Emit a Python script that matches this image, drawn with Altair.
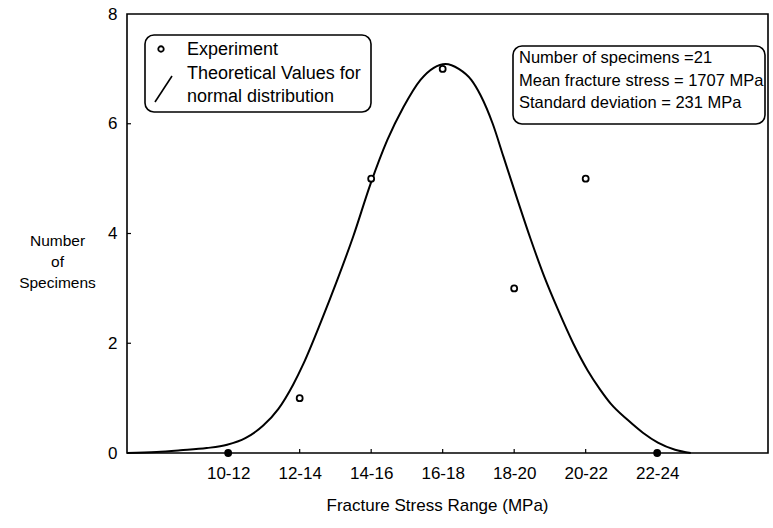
import json
import altair as alt
import pandas as pd

# ---- data ----
range_labels = ["10-12", "12-14", "14-16", "16-18", "18-20", "20-22", "22-24"]
range_mid = [11, 13, 15, 17, 19, 21, 23]          # mid stress, 100 MPa units
experiment_count = [0, 1, 5, 7, 3, 5, 0]

# theoretical curve
curve_x = [8.17, 9.0, 9.66, 10.4, 10.97, 11.48, 11.98, 12.40, 12.82, 13.10,
           13.60, 14.05, 14.50, 14.98, 15.45, 15.90, 16.38, 16.75, 17.08, 17.45,
           17.80, 18.06, 18.40, 18.70, 19.10, 19.46, 19.85, 20.22, 20.65, 21.06,
           21.40, 21.70, 22.18, 22.60, 23.02, 23.50, 23.94]
curve_y = [0.00, 0.02, 0.05, 0.09, 0.15, 0.27, 0.50, 0.80, 1.25, 1.62,
           2.40, 3.15, 3.95, 4.90, 5.70, 6.30, 6.80, 7.02, 7.09, 7.00,
           6.80, 6.52, 6.00, 5.40, 4.60, 3.90, 3.20, 2.62, 2.00, 1.50,
           1.16, 0.90, 0.60, 0.37, 0.19, 0.06, 0.00]

legend_lines_exp = ["Experiment"]
legend_lines_theo = ["Theoretical Values for", "normal distribution"]
stats_lines = ["Number of specimens =21",
               "Mean fracture stress = 1707 MPa",
               "Standard deviation = 231 MPa"]
y_ticks = [0, 2, 4, 6, 8]
inner_x_ticks = [13, 15, 17, 19, 21]
inner_y_ticks = [2, 4, 6]

FONT = "Liberation Sans"
W, H = 641, 439
XDOM = [8.17, 26.1]

pts = pd.DataFrame({"x": range_mid, "count": experiment_count})
curve = pd.DataFrame({"x": curve_x, "y": curve_y})

xscale = alt.Scale(domain=XDOM, nice=False, zero=False)
yscale = alt.Scale(domain=[0, 8], nice=False)

label_expr = json.dumps(range_labels) + "[round((datum.value - 11) / 2)]"

xaxis = alt.Axis(values=range_mid, labelExpr=label_expr, ticks=False, tickSize=0,
                 domain=False, grid=False, labelPadding=12, labelFontSize=17,
                 labelFont=FONT, labelColor="black",
                 title="Fracture Stress Range (MPa)", titleFont=FONT,
                 titleFontSize=17, titleFontWeight="normal", titleColor="black",
                 titleX=310, titleY=44, titleAnchor="middle", labelFlush=False)
yaxis = alt.Axis(values=y_ticks, ticks=False, tickSize=0, domain=False, grid=False,
                 labelPadding=10, labelFontSize=17, labelFont=FONT, labelColor="black",
                 title=["Number", "of", "Specimens"], titleAngle=0, titleFont=FONT,
                 titleFontSize=15.5, titleFontWeight="normal", titleColor="black",
                 titleX=-70, titleY=219, titleAlign="center", titleBaseline="top",
                 titleLineHeight=21, labelFlush=False)

line = alt.Chart(curve).mark_line(color="black", strokeWidth=2, interpolate="monotone").encode(
    x=alt.X("x:Q", scale=xscale, axis=xaxis),
    y=alt.Y("y:Q", scale=yscale, axis=yaxis),
)

points = alt.Chart(pts).mark_point(shape="circle", size=36, strokeWidth=1.8, opacity=1).encode(
    x=alt.X("x:Q", scale=xscale),
    y=alt.Y("count:Q", scale=yscale),
    color=alt.value("black"),
    fill=alt.condition("datum.count == 0", alt.value("black"), alt.value("white")),
    fillOpacity=alt.value(1),
)

xt = alt.Chart(pd.DataFrame({"x": inner_x_ticks})).mark_rule(color="black", strokeWidth=1.2).encode(
    x=alt.X("x:Q", scale=xscale), y=alt.value(H), y2=alt.value(H - 4))
yt = alt.Chart(pd.DataFrame({"y": inner_y_ticks})).mark_rule(color="black", strokeWidth=1.2).encode(
    y=alt.Y("y:Q", scale=yscale), x=alt.value(0), x2=alt.value(4))

base = alt.Chart(pd.DataFrame({"a": [0]}))

# legend box
leg_box = base.mark_rect(fill="white", stroke="black", strokeWidth=1.6, cornerRadius=9).encode(
    x=alt.value(18), x2=alt.value(244), y=alt.value(21), y2=alt.value(98))
leg_sym = base.mark_point(shape="circle", size=30, strokeWidth=1.8, color="black", opacity=1).encode(
    x=alt.value(34), y=alt.value(35))
leg_line = base.mark_rule(color="black", strokeWidth=1.6).encode(
    x=alt.value(28), y=alt.value(88), x2=alt.value(45), y2=alt.value(62))
leg_t1 = base.mark_text(align="left", baseline="middle", font=FONT, fontSize=18, color="black").encode(
    x=alt.value(60), y=alt.value(36), text=alt.value(legend_lines_exp[0]))
leg_t2 = base.mark_text(align="left", baseline="middle", font=FONT, fontSize=18, color="black",
                        lineHeight=23).encode(
    x=alt.value(60), y=alt.value(60), text=alt.value(legend_lines_theo))

# stats box
st_box = base.mark_rect(fill="white", stroke="black", strokeWidth=1.6, cornerRadius=9).encode(
    x=alt.value(386), x2=alt.value(638), y=alt.value(32), y2=alt.value(110))
st_t = base.mark_text(align="left", baseline="middle", font=FONT, fontSize=16.5, color="black",
                      lineHeight=22.5).encode(
    x=alt.value(392), y=alt.value(44), text=alt.value(stats_lines))

chart = alt.layer(line, points, xt, yt, leg_box, leg_sym, leg_line, leg_t1, leg_t2, st_box, st_t).properties(
    width=W, height=H,
    autosize=alt.AutoSizeParams(type="none"),
    padding={"left": 127, "top": 14, "right": 5, "bottom": 75},
    background="white",
).configure_view(stroke="black", strokeWidth=1.6)

chart.save("out.html", embed_options={"renderer": "svg", "actions": False})
